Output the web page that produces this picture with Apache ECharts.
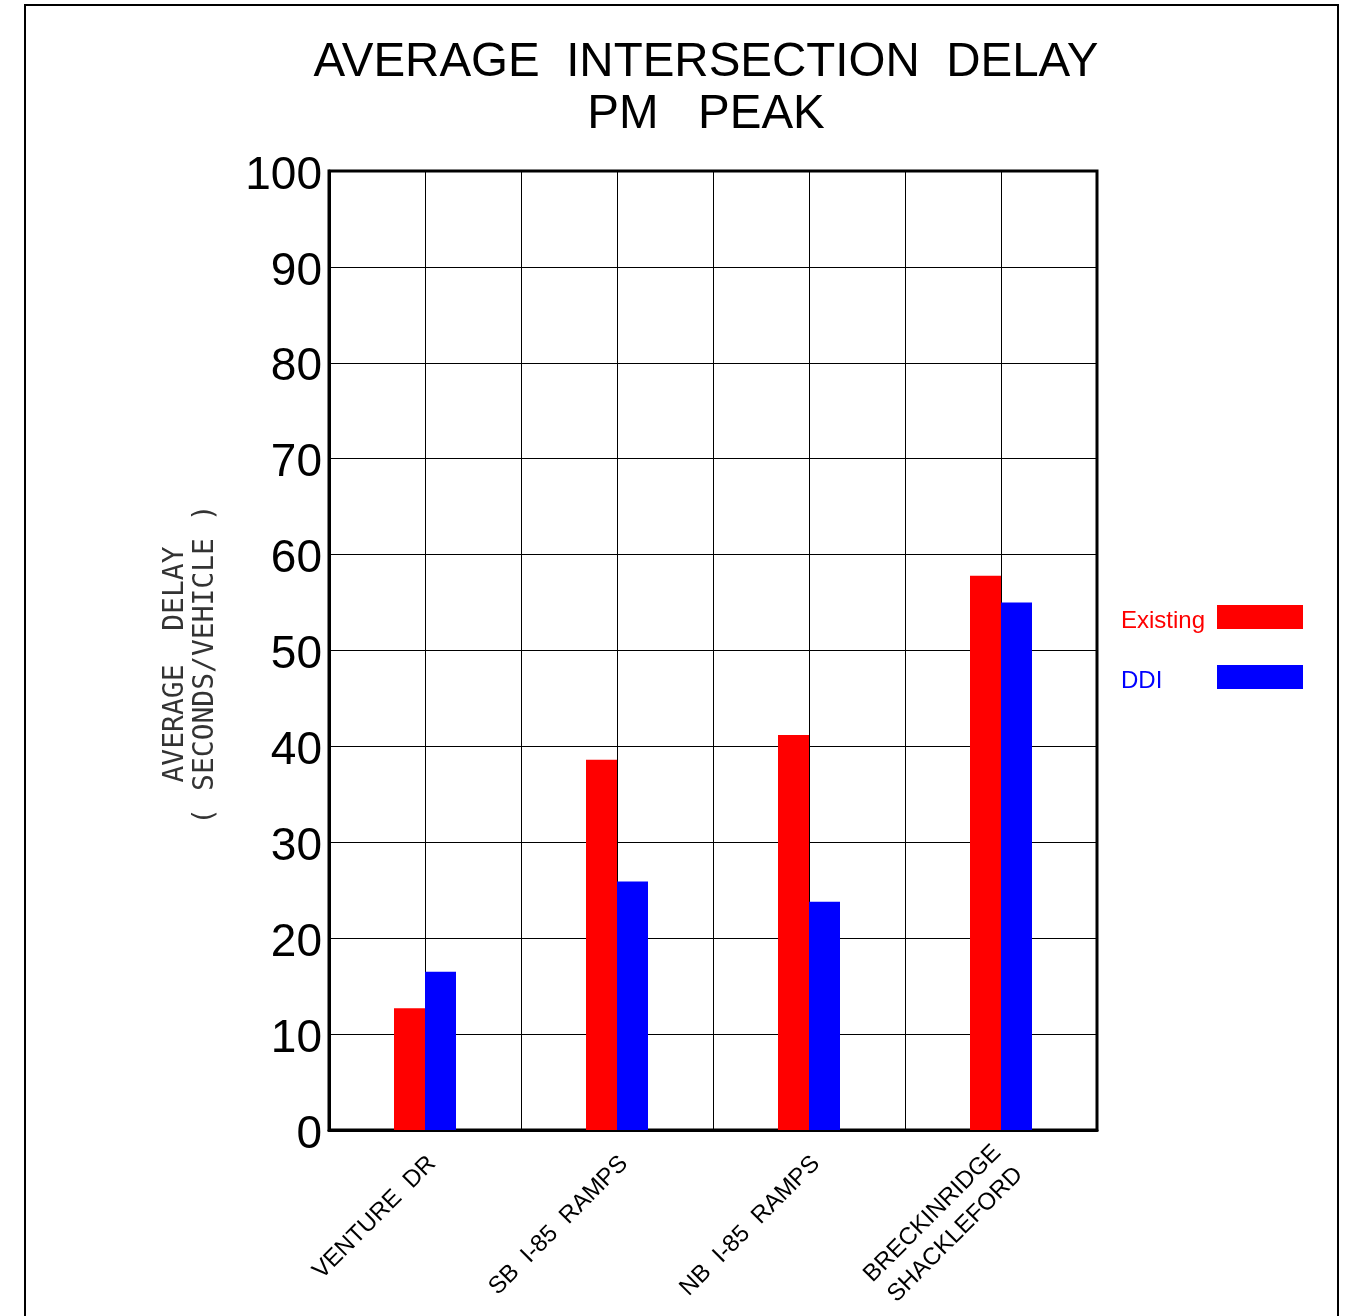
<!DOCTYPE html>
<html>
<head>
<meta charset="utf-8">
<script src="https://cdn.jsdelivr.net/npm/echarts@6/dist/echarts.min.js"></script>
<style>
html,body{margin:0;padding:0;background:#fff;}
#chart{width:1347px;height:1316px;}
</style>
</head>
<body>
<div id="chart"></div>
<script>
const categories = ['VENTURE  DR', 'SB  I-85  RAMPS', 'NB  I-85  RAMPS', 'BRECKINRIDGE\nSHACKLEFORD'];
const existingValues = [12.7, 38.6, 41.2, 57.8];
const ddiValues = [16.5, 25.9, 23.8, 55.0];
const seriesNames = ['Existing', 'DDI'];
const yTicks = { min: 0, max: 100, interval: 10 };

const chart = echarts.init(document.getElementById('chart'));
const option = {
  backgroundColor: '#fff',
  animation: false,
  title: {
    text: 'AVERAGE  INTERSECTION  DELAY\nPM   PEAK',
    left: 701,
    top: 32,
    textAlign: 'center',
    textStyle: {
      fontFamily: 'Liberation Sans',
      fontSize: 47.5,
      fontWeight: 'normal',
      lineHeight: 52,
      color: '#000'
    }
  },
  legend: {
    orient: 'vertical',
    left: 1116,
    top: 596,
    align: 'right',
    itemWidth: 86,
    itemHeight: 24,
    itemGap: 28,
    icon: 'rect',
    data: seriesNames,
    formatter: function (name) { return name === 'Existing' ? '{e|' + name + '}' : '{d|' + name + '}'; },
    textStyle: {
      fontFamily: 'Liberation Sans',
      fontSize: 24,
      rich: {
        e: { color: '#ff0000', width: 91, align: 'left', fontSize: 24, lineHeight: 24, padding: [8, 0, 0, 0], fontFamily: 'Liberation Sans' },
        d: { color: '#0000ff', width: 91, align: 'left', fontSize: 24, lineHeight: 24, padding: [8, 0, 0, 0], fontFamily: 'Liberation Sans' }
      }
    }
  },
  graphic: [{
    type: 'rect',
    shape: { x: 25, y: 5, width: 1313, height: 1330 },
    style: { fill: 'none', stroke: '#000', lineWidth: 2 },
    silent: true,
    z: -1
  }],
  grid: {
    left: 329,
    right: 250,
    top: 171,
    bottom: 186,
    show: true,
    borderColor: '#000',
    borderWidth: 3,
    containLabel: false,
    outerBoundsMode: 'none'
  },
  xAxis: [{
    type: 'category',
    data: categories,
    boundaryGap: true,
    axisLine: { show: true, lineStyle: { color: '#000', width: 3 } },
    axisTick: { show: false },
    splitLine: { show: false },
    axisLabel: {
      interval: 0,
      rotate: 45,
      margin: 23,
      formatter: function (v) {
        return '{s| }\n' + v.split('\n').map(function (s) { return '{n|' + s + '}'; }).join('\n');
      },
      rich: {
        s: { fontFamily: 'Liberation Sans', fontSize: 10, lineHeight: 20, color: '#000' },
        n: { fontFamily: 'Liberation Sans', fontSize: 24, lineHeight: 31, color: '#000' }
      },
      fontFamily: 'Liberation Sans',
      fontSize: 24,
      lineHeight: 31,
      color: '#000'
    }
  }, {
    type: 'value',
    position: 'top',
    min: 0,
    max: 8,
    interval: 1,
    axisLine: { show: false },
    axisTick: { show: false },
    axisLabel: { show: false },
    splitLine: { show: true, lineStyle: { color: '#000', width: 1 } }
  }],
  yAxis: {
    type: 'value',
    min: yTicks.min,
    max: yTicks.max,
    interval: yTicks.interval,
    axisLine: { show: true, lineStyle: { color: '#000', width: 3 } },
    axisTick: { show: false },
    splitLine: { show: true, lineStyle: { color: '#000', width: 1 } },
    axisLabel: {
      margin: 7,
      formatter: '{v|{value}}',
      rich: {
        v: { fontFamily: 'Liberation Sans', fontSize: 46, lineHeight: 46, padding: [10, 0, 0, 0], color: '#000' }
      },
      fontFamily: 'Liberation Sans',
      fontSize: 46,
      color: '#000'
    },
    name: 'AVERAGE  DELAY\n( SECONDS/VEHICLE )',
    nameLocation: 'middle',
    nameRotate: 90,
    nameGap: 108,
    nameTextStyle: {
      fontFamily: 'DejaVu Sans Mono',
      fontSize: 28,
      lineHeight: 30,
      padding: [0, 28, 0, 0],
      color: '#333'
    }
  },
  series: [{
    name: seriesNames[0],
    type: 'bar',
    xAxisIndex: 0,
    data: existingValues,
    barWidth: 31,
    barGap: '0%',
    itemStyle: { color: '#ff0000' }
  }, {
    name: seriesNames[1],
    type: 'bar',
    xAxisIndex: 0,
    data: ddiValues,
    barWidth: 31,
    barGap: '0%',
    itemStyle: { color: '#0000ff' }
  }]
};
chart.setOption(option);
</script>
</body>
</html>
